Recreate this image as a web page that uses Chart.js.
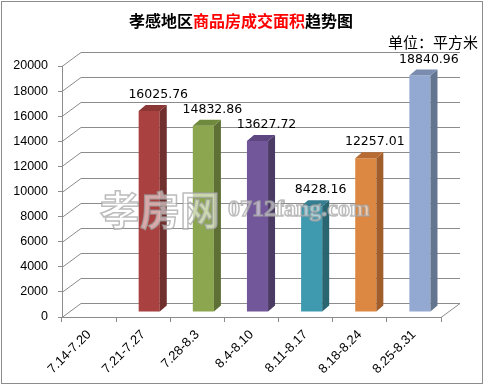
<!DOCTYPE html>
<html>
<head>
<meta charset="utf-8">
<script src="https://cdn.jsdelivr.net/npm/chart.js@4"></script>
<style>
  html, body { margin: 0; padding: 0; background: #fff; }
  #wrap { width: 488px; height: 386px; }
</style>
</head>
<body>
<div id="wrap"><canvas id="areaChart" width="488" height="386"></canvas></div>
<script>
const categories = ['7.14-7.20', '7.21-7.27', '7.28-8.3', '8.4-8.10', '8.11-8.17', '8.18-8.24', '8.25-8.31'];
const areaValues = [null, 16025.76, 14832.86, 13627.72, 8428.16, 12257.01, 18840.96];
const yMin = 0, yMax = 20000, yStep = 2000;

const titleParts = [['孝感地区', '#000'], ['商品房成交面积', '#ff0000'], ['趋势图', '#000']];
const unitText = '单位：平方米';

const frontColors = ['#a8413f', '#a8413f', '#8ba64e', '#72589a', '#3f9ab0', '#dc8843', '#93a9d1'];
const sideColors  = ['#70302e', '#70302e', '#5f7036', '#4a3a64', '#2a6672', '#a15e2c', '#64758f'];
const topColors   = ['#8a3735', '#8a3735', '#6f8a3c', '#5e4780', '#357e92', '#b86c34', '#7a8db0'];

// 3d geometry
const WALL_DX = 19, WALL_DY = -14;
const BAR_SHIFT_X = 6, BAR_SHIFT_Y = -5;
const BAR_DX = 7, BAR_DY = -6;
const GRID = '#8c8c8c';

Chart.defaults.font.family = '"Liberation Sans", Arial, sans-serif';

function poly(ctx, pts, fill) {
    ctx.beginPath();
    ctx.moveTo(pts[0][0], pts[0][1]);
    for (let i = 1; i < pts.length; i++) ctx.lineTo(pts[i][0], pts[i][1]);
    ctx.closePath();
    ctx.fillStyle = fill;
    ctx.fill();
}

const threeD = {
    id: 'threeD',
    beforeDraw(chart) {
        const ctx = chart.ctx;
        ctx.save();
        ctx.fillStyle = '#fff';
        ctx.fillRect(0, 0, chart.width, chart.height);
        ctx.strokeStyle = '#8c8c8c';
        ctx.lineWidth = 1;
        ctx.strokeRect(1.5, 1.5, 481, 382);
        ctx.restore();
    },
    beforeDatasetsDraw(chart) {
        const ctx = chart.ctx;
        const y = chart.scales.y;
        const a = chart.chartArea;
        ctx.save();
        ctx.strokeStyle = GRID;
        ctx.lineWidth = 1;
        for (let v = yMin; v <= yMax; v += yStep) {
            const py = Math.round(y.getPixelForValue(v)) + 0.5;
            ctx.beginPath();
            ctx.moveTo(a.left, py);
            ctx.lineTo(a.left + WALL_DX, py + WALL_DY);
            ctx.lineTo(a.right + WALL_DX, py + WALL_DY);
            ctx.stroke();
        }
        const pb = Math.round(a.bottom) + 0.5;
        ctx.beginPath();
        ctx.moveTo(a.right, pb);
        ctx.lineTo(a.right + WALL_DX, pb + WALL_DY);
        ctx.stroke();
        ctx.restore();

        ctx.save();
        ctx.translate(BAR_SHIFT_X, BAR_SHIFT_Y);
    },
    afterDatasetsDraw(chart) {
        const ctx = chart.ctx;
        const meta = chart.getDatasetMeta(0);
        meta.data.forEach((bar, i) => {
            if (areaValues[i] == null) return;
            const p = bar.getProps(['x', 'y', 'base', 'width'], true);
            const l = p.x - p.width / 2, r = p.x + p.width / 2;
            poly(ctx, [[r, p.y], [r + BAR_DX, p.y + BAR_DY], [r + BAR_DX, p.base + BAR_DY], [r, p.base]], sideColors[i]);
            poly(ctx, [[l, p.y], [l + BAR_DX, p.y + BAR_DY], [r + BAR_DX, p.y + BAR_DY], [r, p.y]], topColors[i]);
        });
        ctx.restore();

        ctx.save();
        ctx.fillStyle = '#000';
        ctx.font = '12.5px "DejaVu Sans", sans-serif';
        ctx.textAlign = 'center';
        ctx.textBaseline = 'middle';
        meta.data.forEach((bar, i) => {
            if (areaValues[i] == null) return;
            const p = bar.getProps(['x', 'y'], true);
            ctx.fillText(areaValues[i].toFixed(2), p.x + BAR_SHIFT_X + 9, p.y + BAR_SHIFT_Y - 16);
        });
        ctx.restore();
    },
    afterDraw(chart) {
        const ctx = chart.ctx;
        ctx.save();
        // watermark over the plot
        ctx.textBaseline = 'middle';
        ctx.lineWidth = 1.5;
        ctx.strokeStyle = 'rgba(160,160,160,0.7)';
        ctx.fillStyle = 'rgba(255,255,255,0.55)';
        ctx.font = 'bold 40px "Noto Sans CJK SC"';
        ctx.fillText('孝房网', 100, 210);
        ctx.strokeText('孝房网', 100, 210);
        ctx.font = 'bold 24px "Liberation Serif", serif';
        ctx.fillText('0712fang.com', 228, 210);
        ctx.strokeText('0712fang.com', 228, 210);

        ctx.font = 'bold 16px "Noto Sans CJK SC"';
        let total = 0;
        titleParts.forEach(t => total += ctx.measureText(t[0]).width);
        let x = 241 - total / 2;
        titleParts.forEach(t => {
            ctx.fillStyle = t[1];
            ctx.fillText(t[0], x, 21);
            x += ctx.measureText(t[0]).width;
        });
        ctx.font = '15px "Noto Sans CJK SC"';
        ctx.fillStyle = '#000';
        ctx.textAlign = 'right';
        ctx.fillText(unitText, 478, 42);
        ctx.restore();
    }
};

new Chart(document.getElementById('areaChart'), {
    type: 'bar',
    data: {
        labels: categories,
        datasets: [{
            data: areaValues,
            backgroundColor: frontColors,
            borderWidth: 0,
            barPercentage: 0.39,
            categoryPercentage: 1
        }]
    },
    options: {
        responsive: false,
        animation: false,
        events: [],
        layout: { padding: { left: 0, top: 66, right: 47, bottom: 0 } },
        plugins: { legend: { display: false }, tooltip: { enabled: false }, title: { display: false } },
        scales: {
            x: {
                offset: true,
                afterFit(scale) { scale.height = 69; },
                grid: { drawOnChartArea: false, tickLength: 5, color: GRID, offset: true },
                border: { color: GRID },
                ticks: { color: '#000', font: { size: 13 }, maxRotation: 45, minRotation: 45, padding: 5, autoSkip: false }
            },
            y: {
                min: yMin,
                max: yMax,
                afterFit(scale) { scale.width = 62; },
                grid: { drawOnChartArea: false, tickLength: 4, color: GRID },
                border: { color: GRID },
                ticks: { stepSize: yStep, color: '#000', font: { size: 12.5 }, padding: 10, callback: v => String(v) }
            }
        }
    },
    plugins: [threeD]
});
</script>
</body>
</html>
